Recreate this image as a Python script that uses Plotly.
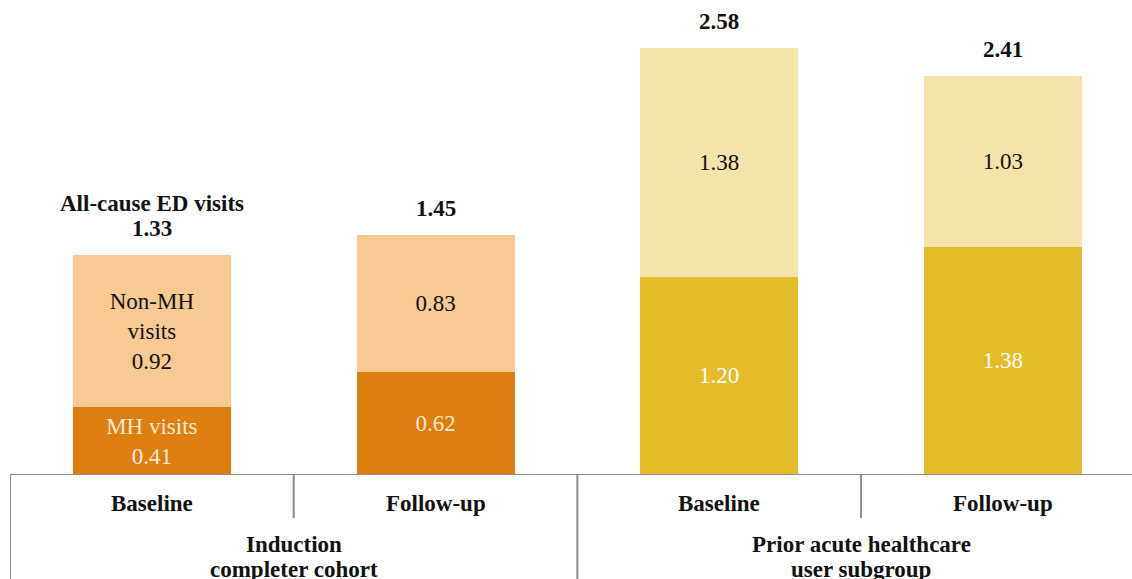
import plotly.graph_objects as go

# ED visit rates per patient, split into mental-health (MH) and non-MH visits
periods = ["Baseline", "Follow-up", "Baseline", "Follow-up"]
groups = [["Induction", "completer cohort"], ["Prior acute healthcare", "user subgroup"]]
mh_visits = [0.41, 0.62, 1.20, 1.38]
non_mh_visits = [0.92, 0.83, 1.38, 1.03]
all_cause = [1.33, 1.45, 2.58, 2.41]

mh_colors = ["#DF7E10", "#DF7E10", "#E4BC2A", "#E4BC2A"]
non_mh_colors = ["#F7C993", "#F7C993", "#F4E3AA", "#F4E3AA"]
mh_text_colors = ["#FBEBD6", "#FBEBD6", "#FFFFFF", "#FFFFFF"]

FONT = "Liberation Serif, Times New Roman, serif"
FS = 23
PLOT_H = 475  # plot-area height in px, used to place labels below the axis
x = list(range(len(periods)))

mh_labels = [f"{v:.2f}" for v in mh_visits]
mh_labels[0] = f"MH visits<br>{mh_visits[0]:.2f}"
non_mh_labels = [f"{v:.2f}" for v in non_mh_visits]
non_mh_labels[0] = f"Non-MH<br>visits<br>{non_mh_visits[0]:.2f}"

fig = go.Figure()
fig.add_trace(go.Bar(
    x=x, y=mh_visits, width=0.557, marker=dict(color=mh_colors, line=dict(width=0)),
    text=mh_labels, textposition="inside", insidetextanchor="middle", textangle=0,
    textfont=dict(family=FONT, size=FS, color=mh_text_colors),
    hoverinfo="skip",
))
fig.add_trace(go.Bar(
    x=x, y=non_mh_visits, width=0.557, marker=dict(color=non_mh_colors, line=dict(width=0)),
    text=non_mh_labels, textposition="inside", insidetextanchor="middle", textangle=0,
    textfont=dict(family=FONT, size=FS, color="#111111"),
    hoverinfo="skip",
))

annotations = []
# totals above each bar
for xi, tot in zip(x, all_cause):
    annotations.append(dict(
        x=xi, y=tot, xref="x", yref="y", text=f"<b>{tot:.2f}</b>", showarrow=False,
        yanchor="middle", yshift=27, font=dict(family=FONT, size=FS, color="#111111"),
    ))
annotations.append(dict(
    x=0, y=all_cause[0], xref="x", yref="y", text="<b>All-cause ED visits</b>", showarrow=False,
    yanchor="middle", yshift=52, font=dict(family=FONT, size=FS, color="#111111"),
))

# period labels under each bar
for xi, p in zip(x, periods):
    annotations.append(dict(
        x=xi, y=-28 / PLOT_H, xref="x", yref="paper", text=f"<b>{p}</b>", showarrow=False,
        yanchor="middle", font=dict(family=FONT, size=FS, color="#111111"),
    ))
# group labels, one line at a time
for gi, lines in enumerate(groups):
    for li, line in enumerate(lines):
        annotations.append(dict(
            x=2 * gi + 0.5, y=-(69 + 25 * li) / PLOT_H, xref="x", yref="paper",
            text=f"<b>{line}</b>", showarrow=False, yanchor="middle",
            font=dict(family=FONT, size=FS, color="#111111"),
        ))

line_style = dict(color="#8C8C8C", width=2)
shapes = [dict(type="line", xref="paper", yref="y", x0=0, x1=1, y0=0, y1=0, line=line_style)]
# separators: full height between groups, short between periods
for xb, depth in [(-0.5, 110), (0.5, 43), (1.5, 110), (2.5, 43)]:
    shapes.append(dict(type="line", xref="x", yref="paper", x0=xb, x1=xb,
                       y0=0, y1=-depth / PLOT_H, line=line_style))

fig.update_layout(
    width=1132, height=579,
    margin=dict(l=10, r=0, t=0, b=104),
    paper_bgcolor="white", plot_bgcolor="white",
    barmode="stack", showlegend=False,
    xaxis=dict(range=[-0.5, 3.455], showticklabels=False, showgrid=False,
               zeroline=False, showline=False, ticks=""),
    yaxis=dict(range=[0, 2.872], visible=False),
    annotations=annotations, shapes=shapes,
    uniformtext=dict(minsize=FS, mode="show"),
)

fig.write_html("out.html", config={"displayModeBar": False})
